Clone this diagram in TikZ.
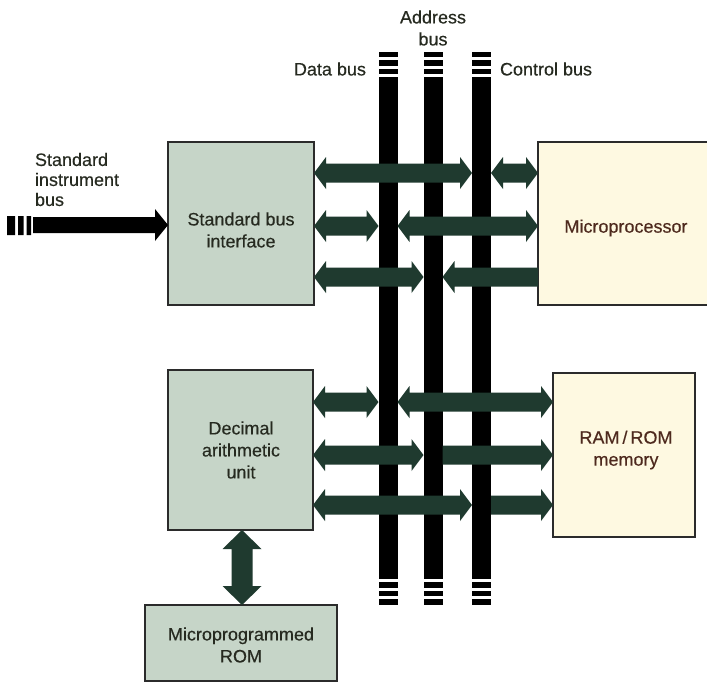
\documentclass[tikz,border=0pt]{standalone}
\usepackage{fontspec}
\setmainfont{Liberation Sans}[FakeBold=0.35]
\usetikzlibrary{calc}
\definecolor{arrcol}{HTML}{1F3A2F}
\definecolor{greenbox}{HTML}{C6D5C8}
\definecolor{yelbox}{HTML}{FEF9E1}
\definecolor{txt}{HTML}{262A20}
\definecolor{redtxt}{HTML}{4E2A1E}
\definecolor{edge}{HTML}{2B2B2B}
% #1 left anchor, #2 right anchor, #3 y (px), #4 left head (1/0), #5 right head (1/0)
\newcommand\barrow[5]{%
 \fill[arrcol] let \p1=(#1), \p2=(#2), \p3=(0,#3) in
 (\x1,\y3) -- (\x1+#4*12pt,\y3+9.5pt+#4*6.5pt) -- (\x1+#4*12pt,\y3+9.5pt)
 -- (\x2-#5*12pt,\y3+9.5pt) -- (\x2-#5*12pt,\y3+9.5pt+#5*6.5pt) -- (\x2,\y3)
 -- (\x2-#5*12pt,\y3-9.5pt-#5*6.5pt) -- (\x2-#5*12pt,\y3-9.5pt)
 -- (\x1+#4*12pt,\y3-9.5pt) -- (\x1+#4*12pt,\y3-9.5pt-#4*6.5pt) -- cycle;}
\begin{document}
\begin{tikzpicture}[x=1pt,y=-1pt,
  font=\fontsize{18}{22}\selectfont,
  every node/.style={inner sep=0pt,outer sep=0pt},
  gbox/.style={draw=edge,line width=1.3pt,fill=greenbox},
  ybox/.style={draw=edge,line width=1.3pt,fill=yelbox},
  lbl/.style={text=txt,align=center},
  rlbl/.style={text=redtxt,align=center},
  busbar/.style={fill=black,minimum width=19pt,minimum height=502pt}]
\useasboundingbox[fill=white] (0,0) rectangle (707,683);

% boxes
\node[gbox,minimum width=146pt,minimum height=163pt] (sbi) at (241,223.5) {};
\node[gbox,minimum width=145pt,minimum height=160pt] (dau) at (240.5,450) {};
\node[gbox,minimum width=192pt,minimum height=76pt] (rom) at (241,643) {};
\node[ybox,minimum width=172pt,minimum height=163pt] (mpu) at (624,223.5) {};
\node[ybox,minimum width=142pt,minimum height=164pt] (ram) at (624,455) {};

\node[lbl] at (241,230) {Standard bus\\interface};
\node[lbl] at (241,450) {Decimal\\arithmetic\\unit};
\node[lbl] at (241,645) {Microprogrammed\\ROM};
\node[rlbl] at (626,228) {Microprocessor};
\node[rlbl] at (626,450) {RAM\,/\,ROM\\memory};

% buses
\node[busbar] (dbus) at (388,328) {};
\node[busbar] (abus) at (433,328) {};
\node[busbar] (cbus) at (481.5,328) {};
\foreach \b in {dbus,abus,cbus}{
  \foreach \o in {3,11.5,20}{
    \fill let \p1=(\b.north west), \p2=(\b.north east) in (\x1,\y1+\o*1pt) rectangle (\x2,\y1+\o*1pt+5.5pt);
    \fill let \p1=(\b.south west), \p2=(\b.south east) in (\x1,\y1-\o*1pt) rectangle (\x2,\y1-\o*1pt-5.5pt);
  }}
\node[lbl,anchor=east] (dlab) at (366,69) {Data bus};
\node[lbl] (alab) at (433,28) {Address\\bus};
\node[lbl,anchor=west] (clab) at (500,69) {Control bus};

% upper group
\barrow{sbi.east}{cbus.west}{173}{1}{1}
\barrow{cbus.east}{mpu.west}{173}{1}{1}
\barrow{sbi.east}{dbus.west}{226}{1}{1}
\barrow{dbus.east}{mpu.west}{226}{1}{1}
\barrow{sbi.east}{abus.west}{277}{1}{1}
\barrow{abus.east}{mpu.west}{277}{1}{0}
% lower group
\barrow{dau.east}{dbus.west}{402}{1}{1}
\barrow{dbus.east}{ram.west}{402}{1}{1}
\barrow{dau.east}{abus.west}{455}{1}{1}
\barrow{abus.east}{ram.west}{455}{0}{1}
\barrow{dau.east}{cbus.west}{505}{1}{1}
\barrow{cbus.east}{ram.west}{505}{0}{1}

% vertical arrow DAU <-> ROM
\fill[arrcol] let \p1=(dau.south), \p2=(rom.north), \p3=(242,0) in
  (\x3,\y1) -- (\x3+19.5pt,\y1-19pt) -- (\x3+10.5pt,\y1-19pt) -- (\x3+10.5pt,\y2+19pt)
  -- (\x3+19.5pt,\y2+19pt) -- (\x3,\y2) -- (\x3-19.5pt,\y2+19pt) -- (\x3-10.5pt,\y2+19pt)
  -- (\x3-10.5pt,\y1-19pt) -- (\x3-19.5pt,\y1-19pt) -- cycle;

% standard instrument bus input
\node[lbl,align=left,anchor=west,font=\fontsize{18}{20}\selectfont] (silab) at (35,179.5) {Standard\\instrument\\bus};
\coordinate (inb) at (33,225);
\fill[black] (7,216) rectangle (15,235) (18,216) rectangle (23.5,235) (26.5,216) rectangle (31,235);
\fill[black] let \p1=(inb), \p2=(sbi.west) in
  (\x1,\y1+8pt) -- (\x2-13pt,\y1+8pt) -- (\x2-13pt,\y1+16pt) -- (\x2,\y1)
  -- (\x2-13pt,\y1-16pt) -- (\x2-13pt,\y1-8pt) -- (\x1,\y1-8pt) -- cycle;
\end{tikzpicture}
\end{document}
